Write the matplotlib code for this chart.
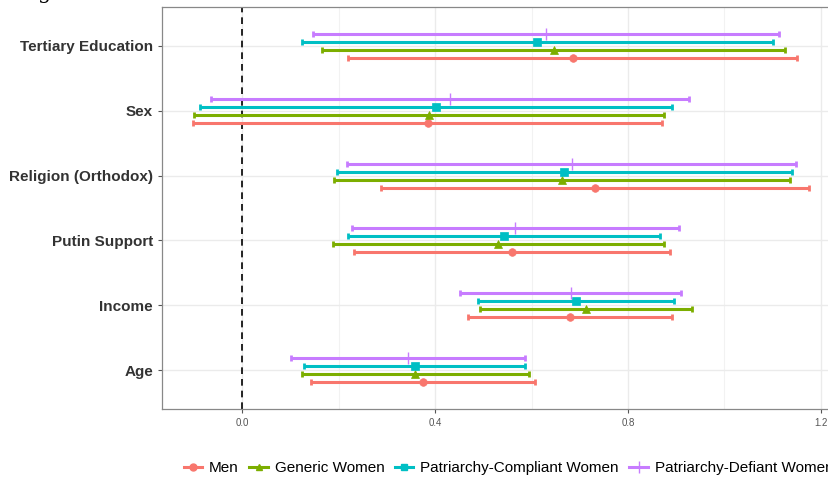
import numpy as np
import matplotlib.pyplot as plt
from matplotlib.lines import Line2D

plt.rcParams['font.family'] = ['Liberation Sans', 'DejaVu Sans']

# predictors, bottom to top
variables = ["Age", "Income", "Putin Support", "Religion (Orthodox)", "Sex", "Tertiary Education"]

groups = ["Men", "Generic Women", "Patriarchy-Compliant Women", "Patriarchy-Defiant Women"]
colors = ["#F8766D", "#7CAE00", "#00BFC4", "#C77CFF"]
markers = ["o", "^", "s", "+"]

# point estimates per group (same order as variables)
men_est = [0.374, 0.679, 0.559, 0.732, 0.384, 0.685]
gen_est = [0.359, 0.713, 0.531, 0.663, 0.388, 0.646]
comp_est = [0.358, 0.692, 0.542, 0.668, 0.401, 0.612]
def_est = [0.344, 0.681, 0.566, 0.683, 0.430, 0.629]

# lower bounds
men_lo = [0.142, 0.467, 0.231, 0.287, -0.103, 0.219]
gen_lo = [0.124, 0.493, 0.187, 0.189, -0.101, 0.166]
comp_lo = [0.128, 0.489, 0.220, 0.196, -0.089, 0.124]
def_lo = [0.100, 0.451, 0.227, 0.217, -0.065, 0.146]

# upper bounds
men_hi = [0.607, 0.891, 0.888, 1.176, 0.871, 1.150]
gen_hi = [0.595, 0.933, 0.875, 1.136, 0.875, 1.125]
comp_hi = [0.587, 0.895, 0.866, 1.140, 0.892, 1.100]
def_hi = [0.587, 0.911, 0.906, 1.149, 0.926, 1.113]

est = [men_est, gen_est, comp_est, def_est]
lo = [men_lo, gen_lo, comp_lo, def_lo]
hi = [men_hi, gen_hi, comp_hi, def_hi]

fig = plt.figure(figsize=(8.29, 4.79), dpi=100)
ax = fig.add_axes([162 / 829, 70 / 479, (840 - 162) / 829, 402 / 479])

ypos = np.arange(1, len(variables) + 1)
offsets = [-0.185, -0.0615, 0.0615, 0.185]

for i, g in enumerate(groups):
    e = np.array(est[i])
    l = np.array(lo[i])
    h = np.array(hi[i])
    y = ypos + offsets[i]
    ax.errorbar(e, y, xerr=[e - l, h - e], fmt='none', ecolor=colors[i],
                elinewidth=2.2, capsize=2.2, capthick=2.0, zorder=3)
    ms = 9 if markers[i] == '+' else 5.5
    ax.plot(e, y, marker=markers[i], color=colors[i], markersize=ms,
            markeredgewidth=1.0 if markers[i] == '+' else 0.5, lw=0, zorder=4, label=g)

ax.axvline(0, color='black', linestyle=(0, (4, 3)), lw=1.2, zorder=2)

ax.set_xlim(-0.167, 1.240)
ax.set_ylim(0.4, 6.6)
ax.set_yticks(ypos)
ax.set_yticklabels(variables, fontsize=11, fontweight='bold', color='#333333')
ax.set_xticks([0.0, 0.4, 0.8, 1.2])
ax.set_xticklabels(["0.0", "0.4", "0.8", "1.2"], fontsize=7, color='#555555')
ax.set_xticks([0.2, 0.6, 1.0], minor=True)

ax.grid(True, which='major', color='#EBEBEB', lw=1.0, zorder=0)
ax.grid(True, which='minor', axis='x', color='#F2F2F2', lw=0.8, zorder=0)
ax.set_axisbelow(True)
ax.tick_params(axis='both', which='major', length=3, color='#555555', width=0.8)
ax.tick_params(axis='x', which='minor', length=0)
for s in ax.spines.values():
    s.set_color('#888888')
    s.set_linewidth(0.9)

# legend keys: short line with the group's marker
handles = [Line2D([0], [0], color=c, marker=m, lw=2.2, markersize=(8 if m == '+' else 5))
           for c, m in zip(colors, markers)]
fig.legend(handles, groups, loc='center left', bbox_to_anchor=(170 / 829, 1 - 468 / 479),
           ncol=4, frameon=False, fontsize=11, handlelength=1.2, handletextpad=0.45,
           columnspacing=0.7)

# descender of the caption line above the plot
fig.text(38 / 829, 1.003, "g", family='DejaVu Serif', fontsize=15, va='baseline')

fig.savefig("out.png", dpi=100)
